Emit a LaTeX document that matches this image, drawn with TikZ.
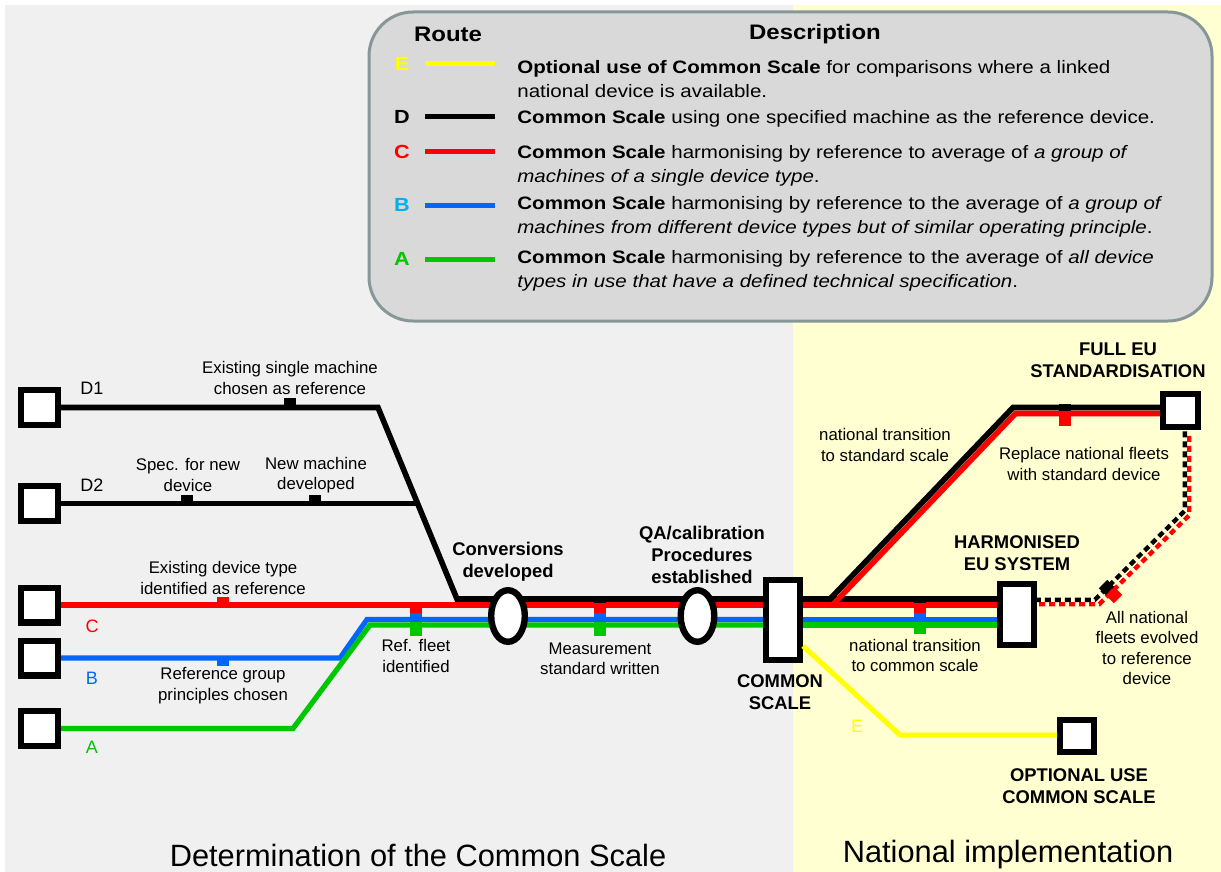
\documentclass[tikz,border=0pt]{standalone}
\usepackage{fontspec}
\setmainfont{Liberation Sans}
\newfontfamily\legendfont{Liberation Sans}[FakeStretch=1.14]
\usetikzlibrary{shapes.geometric}

\definecolor{bgleft}{RGB}{240,240,240}
\definecolor{bgright}{RGB}{255,255,210}
\definecolor{legfill}{RGB}{217,217,217}
\definecolor{legdraw}{RGB}{135,150,150}
\definecolor{rtred}{RGB}{255,0,0}
\definecolor{rtblue}{RGB}{0,102,255}
\definecolor{rtgreen}{RGB}{0,200,0}
\definecolor{rtyellow}{RGB}{255,255,0}
\definecolor{rtcyan}{RGB}{0,176,240}

\begin{document}
\begin{tikzpicture}[x=0.5pt, y=-0.5pt,
    station/.style={
        rectangle, draw=black, line width=3.2pt,
        fill=white, inner sep=0pt
    },
    stop/.style={
        ellipse, draw=black, line width=3.2pt, fill=white,
        inner sep=0pt, minimum width=16.8pt, minimum height=25.8pt
    },
    track/.style={line width=2.8pt},
    thintrack/.style={line width=2.6pt},
    tickmark/.style={line width=6pt},
    railway/.style={line width=2.2pt, dash pattern=on 3pt off 2pt},
    lbl/.style={font=\fontsize{8.4}{10.2}\selectfont, align=center, inner sep=0pt},
    blbl/.style={font=\bfseries\fontsize{9.2}{11}\selectfont, align=center, inner sep=0pt},
    rlbl/.style={font=\fontsize{9}{10}\selectfont, inner sep=0pt},
    keylbl/.style={font=\legendfont\bfseries\fontsize{9.5}{10}\selectfont, inner sep=0pt},
    legtxt/.style={font=\legendfont\fontsize{9}{12}\selectfont, align=left, anchor=west, inner sep=0pt}
]

% background
\useasboundingbox (0,0) rectangle (1221,872);
\fill[white] (0,0) rectangle (1221,872);
\fill[bgleft] (5,5) rectangle (793,872);
\fill[bgright] (793,5) rectangle (1221,872);

% legend
\draw[legdraw, fill=legfill, line width=1.5pt, rounded corners=22pt] (369,12) rectangle (1212,321);
\node[font=\legendfont\bfseries\fontsize{10.5}{12}\selectfont] (hroute) at (448,34) {Route};
\node[font=\legendfont\bfseries\fontsize{10.5}{12}\selectfont] (hdesc) at (815,34) {Description};

\node[keylbl, rtyellow] (keyE) at (402,64) {E};
\node[keylbl] (keyD) at (402,117) {D};
\node[keylbl, rtred] (keyC) at (402,152) {C};
\node[keylbl, rtcyan] (keyB) at (402,205) {B};
\node[keylbl, rtgreen] (keyA) at (402,259) {A};
\draw[rtyellow, line width=2.5pt] (425,64) -- (495,64);
\draw[black, line width=2.5pt] (425,117) -- (495,117);
\draw[rtred, line width=2.5pt] (425,152) -- (495,152);
\draw[rtblue, line width=2.5pt] (425,205) -- (495,205);
\draw[rtgreen, line width=2.5pt] (425,259) -- (495,259);

\node[legtxt] (descE) at (517,79) {\textbf{Optional use of Common Scale} for comparisons where a linked\\national device is available.};
\node[legtxt] (descD) at (517,119) {\textbf{Common Scale} using one specified  machine as the reference device.};
\node[legtxt] (descC) at (517,165.5) {\textbf{Common Scale} harmonising by reference to average of \textit{a group of}\\\textit{machines of a single device type}.};
\node[legtxt] (descB) at (517,217) {\textbf{Common Scale} harmonising by reference to the average of \textit{a group of}\\\textit{machines from different device types but of similar operating principle}.};
\node[legtxt] (descA) at (517,271) {\textbf{Common Scale} harmonising by reference to the average of \textit{all device}\\\textit{types in use that have a defined  technical specification}.};

% stations
\node[station, minimum width=18.3pt, minimum height=17.3pt] (stD1) at (39.5,407.5) {};
\node[station, minimum width=18.3pt, minimum height=17.3pt] (stD2) at (39.5,503.5) {};
\node[station, minimum width=18.3pt, minimum height=17.3pt] (stC) at (39.5,605) {};
\node[station, minimum width=18.3pt, minimum height=17.3pt] (stB) at (39.5,658) {};
\node[station, minimum width=18.3pt, minimum height=17.3pt] (stA) at (39.5,728.5) {};
\node[station, minimum width=16.8pt, minimum height=39.8pt] (common) at (783,620) {};
\node[station, minimum width=16.8pt, minimum height=30.3pt] (harm) at (1017,614.5) {};
\node[station, minimum width=17.3pt, minimum height=16.3pt] (fulleu) at (1180.5,410.5) {};
\node[station, minimum width=16.8pt, minimum height=15.8pt] (optional) at (1077,736) {};

% bends
\coordinate (d1turn) at (378,407.5);
\coordinate (dmerge) at (457,599);
\coordinate (d2join) at (417.6,503.5);
\coordinate (bturn1) at (340,658);
\coordinate (bturn2) at (367,619.5);
\coordinate (aturn1) at (293,728.5);
\coordinate (aturn2) at (370,625);
\coordinate (sbranch) at (830,599);
\coordinate (sturn) at (1013,407.5);
\coordinate (rbranch) at (832.5,605);
\coordinate (rturn) at (1015.5,413.5);
\coordinate (dotA) at (1097,602);
\coordinate (dotB) at (1187,513);
\coordinate (estart) at (803,646);
\coordinate (eturn) at (900,735);

% routes to the common scale
\draw[track] (stD1.east) -- (d1turn) -- (dmerge) -- (common.west |- dmerge);
\draw[track] (stD2.east) -- (d2join);
\draw[track, rtred] (stC.east) -- (common.west |- stC.east);
\draw[thintrack, rtblue] (stB.east) -- (bturn1) -- (bturn2) -- (common.west |- bturn2);
\draw[thintrack, rtgreen] (stA.east) -- (aturn1) -- (aturn2) -- (common.west |- aturn2);

% national implementation
\draw[track] (common.east |- dmerge) -- (harm.west |- dmerge);
\draw[track, rtred] (common.east |- stC.east) -- (harm.west |- stC.east);
\draw[thintrack, rtblue] (common.east |- bturn2) -- (harm.west |- bturn2);
\draw[thintrack, rtgreen] (common.east |- aturn2) -- (harm.west |- aturn2);
\draw[track, rtred] (rbranch) -- (rturn) -- (fulleu.west |- rturn);
\draw[track] (sbranch) -- (sturn) -- (fulleu.west |- sturn);
\draw[rtyellow, line width=2.5pt] (common.east |- estart) -- (eturn) -- (optional.west |- eturn);
\draw[railway, rtred, transform canvas={shift={(1.1pt,-1.1pt)}}]
    (harm.east |- dotA) -- (dotA) -- (dotB) -- (fulleu.south -| dotB);
\draw[railway, black, transform canvas={shift={(-1.1pt,1.1pt)}}]
    (harm.east |- dotA) -- (dotA) -- (dotB) -- (fulleu.south -| dotB);

% ticks
\draw[tickmark] (290,398) -- (290,406);
\draw[tickmark] (187,495) -- (187,503);
\draw[tickmark] (315,495) -- (315,503);
\draw[tickmark, rtred] (223,597) -- (223,605);
\draw[tickmark, rtblue] (223,658) -- (223,666);
\draw[tickmark, rtred] (416,605) -- (416,613);
\draw[tickmark, rtblue] (416,613) -- (416,622);
\draw[tickmark, rtgreen] (416,622) -- (416,636);
\draw[tickmark] (600,596) -- (600,603);
\draw[tickmark, rtred] (600,603) -- (600,613);
\draw[tickmark, rtblue] (600,613) -- (600,622);
\draw[tickmark, rtgreen] (600,622) -- (600,636);
\draw[tickmark] (920,596) -- (920,603);
\draw[tickmark, rtred] (920,603) -- (920,613);
\draw[tickmark, rtblue] (920,613) -- (920,622);
\draw[tickmark, rtgreen] (920,622) -- (920,634);
\draw[tickmark] (1065,404) -- (1065,411);
\draw[tickmark, rtred] (1065,411) -- (1065,426);
\draw[tickmark] (1103,584) -- (1110,591);
\draw[tickmark, rtred] (1110,591) -- (1118,599);

% stops on the trunk
\node[stop] (conv) at (508,616) {};
\node[stop] (qacal) at (697.5,616) {};

% route names
\node[rlbl] (nD1) at (92,388) {D1};
\node[rlbl] (nD2) at (92,485) {D2};
\node[rlbl, rtred] (nC) at (92,626) {C};
\node[rlbl, rtblue] (nB) at (92,678) {B};
\node[rlbl, rtgreen] (nA) at (92,747) {A};
\node[rlbl, rtyellow] (nE) at (857,726) {E};

% labels
\node[lbl] (l1) at (290,378) {Existing single machine\\chosen as reference};
\node[lbl] (l2) at (188,475) {Spec. for new\\device};
\node[lbl] (l3) at (316,475) {New  machine\\developed};
\node[lbl] (l4) at (223,578) {Existing  device type\\identified as reference};
\node[lbl] (l5) at (223,685.5) {Reference group\\principles chosen};
\node[lbl] (l6) at (416,656) {Ref. fleet\\identified};
\node[lbl] (l7) at (600,659) {Measurement\\standard written};
\node[lbl] (l8) at (885,445) {national transition\\to standard scale};
\node[lbl] (l9) at (1084,464) {Replace national fleets\\with standard device};
\node[lbl] (l10) at (915,655.5) {national transition\\to common scale};
\node[lbl] (l11) at (1147,648) {All national\\fleets evolved\\to reference\\device};

\node[blbl] (b1) at (508,562) {Conversions\\developed};
\node[blbl] (b2) at (702,554.5) {QA/calibration\\Procedures\\established};
\node[blbl] (b3) at (780,692.5) {COMMON\\SCALE};
\node[blbl] (b4) at (1017,553) {HARMONISED\\EU SYSTEM};
\node[blbl] (b5) at (1118,360) {FULL EU\\STANDARDISATION};
\node[blbl] (b6) at (1079,786) {OPTIONAL USE\\COMMON SCALE};

% phase titles
\node[font=\fontsize{15.4}{18}\selectfont] (ph1) at (418,855) {Determination of the Common Scale};
\node[font=\fontsize{15.4}{18}\selectfont] (ph2) at (1008,855) {National implementation};

\end{tikzpicture}
\end{document}
